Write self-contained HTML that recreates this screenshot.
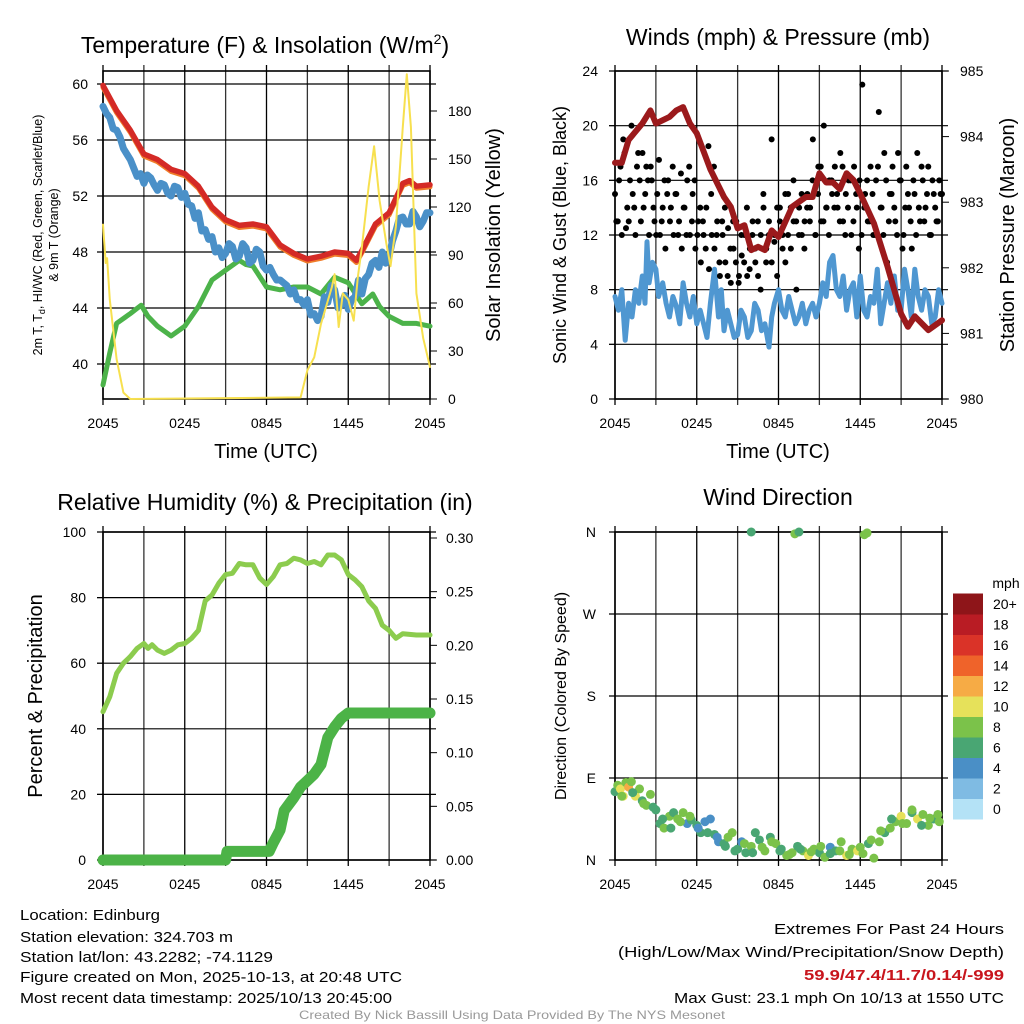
<!DOCTYPE html>
<html><head><meta charset="utf-8"><style>
body{margin:0;background:#fff}
svg{display:block;font-family:"Liberation Sans",sans-serif}
</style></head><body>
<svg id="chart" width="1024" height="1024" viewBox="0 0 1024 1024" xmlns="http://www.w3.org/2000/svg">
<g id="texts">
<text x="265" y="53" font-size="23" text-anchor="middle">Temperature (F) &amp; Insolation (W/m<tspan font-size="14" dy="-9">2</tspan><tspan dy="9">)</tspan></text>
<text x="778" y="45" font-size="23" text-anchor="middle">Winds (mph) &amp; Pressure (mb)</text>
<text x="265" y="510" font-size="23" text-anchor="middle">Relative Humidity (%) &amp; Precipitation (in)</text>
<text x="778" y="505" font-size="23" text-anchor="middle">Wind Direction</text>
<text transform="translate(42,235) rotate(-90)" font-size="12.5" text-anchor="middle">2m T, T<tspan font-size="9" dy="3">d</tspan><tspan dy="-3">, HI/WC (Red, Green, Scarlet/Blue)</tspan></text>
<text transform="translate(58,235) rotate(-90)" font-size="12.5" text-anchor="middle">&amp; 9m T (Orange)</text>
<text transform="translate(500,235) rotate(-90)" font-size="20" text-anchor="middle">Solar Insolation (Yellow)</text>
<text transform="translate(566,235) rotate(-90)" font-size="18" text-anchor="middle">Sonic Wind &amp; Gust (Blue, Black)</text>
<text transform="translate(1014,235) rotate(-90)" font-size="20" text-anchor="middle">Station Pressure (Maroon)</text>
<text transform="translate(42,696) rotate(-90)" font-size="20" text-anchor="middle">Percent &amp; Precipitation</text>
<text transform="translate(566,696) rotate(-90)" font-size="16" text-anchor="middle">Direction (Colored By Speed)</text>
<text x="266" y="458" font-size="20" text-anchor="middle">Time (UTC)</text>
<text x="778" y="458" font-size="20" text-anchor="middle">Time (UTC)</text>
<text x="1006" y="588" font-size="14" text-anchor="middle">mph</text>
<g font-size="15">
<text x="20" y="920" textLength="140" lengthAdjust="spacingAndGlyphs">Location: Edinburg</text>
<text x="20" y="942" textLength="213" lengthAdjust="spacingAndGlyphs">Station elevation: 324.703 m</text>
<text x="20" y="962" textLength="253" lengthAdjust="spacingAndGlyphs">Station lat/lon: 43.2282; -74.1129</text>
<text x="20" y="982" textLength="382" lengthAdjust="spacingAndGlyphs">Figure created on Mon, 2025-10-13, at 20:48 UTC</text>
<text x="20" y="1003" textLength="372" lengthAdjust="spacingAndGlyphs">Most recent data timestamp: 2025/10/13 20:45:00</text>
</g>
<g font-size="15" text-anchor="end">
<text x="1004" y="934" textLength="230" lengthAdjust="spacingAndGlyphs">Extremes For Past 24 Hours</text>
<text x="1004" y="957" textLength="386" lengthAdjust="spacingAndGlyphs">(High/Low/Max Wind/Precipitation/Snow Depth)</text>
<text x="1004" y="980" fill="#c8151d" font-weight="bold" textLength="200" lengthAdjust="spacingAndGlyphs">59.9/47.4/11.7/0.14/-999</text>
<text x="1004" y="1003" textLength="330" lengthAdjust="spacingAndGlyphs">Max Gust: 23.1 mph On 10/13 at 1550 UTC</text>
</g>
<text x="512" y="1019" font-size="12" fill="#999" text-anchor="middle" textLength="426" lengthAdjust="spacingAndGlyphs">Created By Nick Bassill Using Data Provided By The NYS Mesonet</text>
</g>
</svg>
<script>
// ---- data ----
const timeLabels = ["2045","0245","0845","1445","2045"];
const tempTicks = [40,44,48,52,56,60];
const insolTicks = [0,30,60,90,120,150,180];
const windTicks = [0,4,8,12,16,20,24];
const presTicks = [980,981,982,983,984,985];
const rhTicks = [0,20,40,60,80,100];
const precTicks = ["0.00","0.05","0.10","0.15","0.20","0.25","0.30"];
const dirTickLabels = ["N","E","S","W","N"];
const speedLabels = ["0","2","4","6","8","10","12","14","16","18","20+"];

const redT = [0,1,2,3,4,5,6,7,8,9,10,11,12,13,14,15,16,17,18,18.6,19,20,21,22,22.5,23,24];
const redV = [59.9,58.1,56.7,55.0,54.6,53.9,53.6,52.7,51.2,50.3,49.9,50.0,49.8,48.5,47.9,47.5,47.7,48.0,47.9,47.4,48.1,50.0,50.8,52.9,53.1,52.7,52.8];
const blueT = [0,0.25,0.5,0.75,1,1.25,1.5,1.75,2,2.25,2.5,2.75,3,3.25,3.5,3.75,4,4.25,4.5,4.75,5,5.25,5.5,5.75,6,6.25,6.5,6.75,7,7.25,7.5,7.75,8,8.25,8.5,8.75,9,9.25,9.5,9.75,10,10.25,10.5,10.75,11,11.25,11.5,11.75,12,12.25,12.5,12.75,13,13.25,13.5,13.75,14,14.25,14.5,14.75,15,15.25,15.5,15.75,16,16.25,16.5,16.75,17,17.25,17.5,17.75,18,18.25,18.5,18.75,19,19.25,19.5,19.75,20,20.25,20.5,20.75,21,21.25,21.5,21.75,22,22.25,22.5,22.75,23,23.25,23.5,23.75,24];
const blueV = [58.4,57.9,57.6,56.8,56.7,56.2,55.4,55.0,54.6,54.0,53.4,53.6,52.9,53.5,53.3,52.8,52.4,52.9,52.8,52.2,52.0,52.7,52.6,51.9,52.2,51.4,51.3,50.4,50.8,49.5,49.6,48.9,49.1,48.0,48.3,47.6,47.9,48.6,48.4,47.5,47.7,48.6,48.3,47.2,47.4,48.2,48.0,47.0,46.7,46.9,46.4,46.0,46.0,45.8,45.6,45.0,45.3,44.6,44.6,44.2,44.6,43.5,43.6,43.1,43.4,44.8,44.4,45.6,45.3,44.0,44.2,44.9,43.9,44.6,44.8,46.0,45.0,46.1,46.4,47.2,47.4,46.9,48.0,47.2,47.7,48.8,49.5,50.4,50.5,50.0,50.0,50.9,50.5,49.8,50.2,50.8,50.8];
const greenT = [0,0.5,1,2,2.8,3.3,4,5,6,7,8,9,10,10.5,11,12,13,14,15,16,17,18,19,19.8,20.3,21,22,23,24];
const greenV = [38.5,40.8,42.9,43.6,44.2,43.4,42.7,42.0,42.7,44.1,46.0,46.7,47.4,47.1,47.0,45.5,45.3,45.5,45.5,45.0,46.2,45.8,44.3,45.0,44.1,43.4,42.9,42.9,42.7];
const solT = [0,0.2,0.3,0.5,1,1.5,2,14.5,15,15.5,16,16.8,17,17.3,17.6,18,18.4,18.7,19,19.5,19.9,20.3,20.8,21.1,21.5,22,22.3,22.6,23,23.5,24];
const solV = [109,85,88,62,25,4,0,1,18,26,47,70,78,45,66,62,49,76,95,133,158,124,97,83,108,170,203,170,66,38,20];

const sonicT = [0,0.25,0.5,0.75,1,1.25,1.5,1.75,2,2.2,2.35,2.5,2.75,3,3.2,3.5,3.75,4,4.25,4.5,4.75,5,5.25,5.5,5.75,6,6.25,6.5,6.75,7,7.3,7.6,7.8,8,8.25,8.5,8.75,9,9.25,9.5,9.75,10,10.25,10.5,10.75,11,11.3,11.5,11.7,12,12.25,12.5,12.75,13,13.25,13.5,13.75,14,14.25,14.5,14.75,15,15.25,15.5,15.75,16,16.25,16.5,16.75,17,17.25,17.5,17.75,18,18.25,18.5,18.75,19,19.25,19.5,19.75,20,20.25,20.5,20.75,21,21.25,21.5,21.75,22,22.25,22.5,22.75,23,23.25,23.5,23.75,24];
const sonicV = [7.5,6.5,8,4.3,7,6,8,7,9,7,11.5,8.5,10,9.5,7.5,8.5,7,6,7.5,6.8,5.5,8.5,7,6,7.5,5.5,6.5,5.5,4.5,7,9.5,6,8,5,6.5,5.5,4.5,4.7,6.5,6,4.5,5,7,6.5,5,5.5,3.8,6,7,8,6.5,6,7.5,6.5,5.5,6,7,5.5,6.5,7,6,7,8.5,7.5,10,10.5,8,7.5,9,6.5,8,8.5,6,9,6.5,6,7.5,7,9.5,5.5,7,8.5,7,9,6.5,6.5,9.5,8,6,9.5,7.5,6.5,8,7.5,5.5,6,8,7];
const gustV = [15,13,17,19,12.5,13,20,14,17,16,18,15,16,17,14,12,17.5,13,16,15,13,17,15,12,16.5,14,12,17,13,16,12,14,13,11,18.5,15,17,12,10,13,14,9,11,13,10,8.5,12,10,14,9.5,12,11,13,8,15,10,12,19,11.5,9,14,12,10,15,11,13,8,14,12,13,15,14,19,12,17,13,20,14,16,15,17,14,18,13,15,16,12,17,14,16,23,15,13,17,12,16,21,14,18,10,15,17,13,18,16,12,17,14,11,15,18,13,16,14,17,12,15,13,16,15];
const gustV2 = [13,16,12,18,14,16,15,12,18,13,14,17,12,16,13,15,12,14,11,16,14,12,15,13,11,14,16,12,15,11,13,10,12,14,9.5,12,11,13,9,12,10,12.5,8.5,11,13,9,10.5,12,9,11,13,10,9,12,14,11,13,10,12,14,13,11,15,12,14,16,13,12,15,11,14,13,16,12,15,17,13,14,12,16,14,15,13,17,12,14,16,13,15,11,12,14,16,13,15,12,17,14,12,16,13,15,14,12,16,11,14,15,13,16,12,14,17,13,15,12,16,14,13,15];
const presT = [0,0.5,1,2,2.6,3,4,4.5,5,5.5,6,7,8,8.5,9,9.5,10,10.5,11,11.5,12,13,14,14.5,15,15.5,16,16.5,17,17.5,18,19,20,21,21.5,22,23,24];
const presV = [983.6,983.6,983.95,984.2,984.4,984.2,984.3,984.4,984.45,984.2,984.05,983.5,983.08,982.93,982.6,982.65,982.27,982.32,982.27,982.57,982.47,982.93,983.08,983.08,983.44,983.3,983.3,983.2,983.44,983.34,983.13,982.68,982.02,981.3,981.1,981.26,981.05,981.2];

const rhT = [0,0.5,1,1.5,2,2.5,3,3.3,3.6,4,4.5,5,5.5,6,6.5,7,7.5,8,8.5,9,9.5,10,10.5,11,11.5,12,12.5,13,13.5,14,14.5,15,15.5,16,16.5,17,17.5,18,18.5,19,19.5,20,20.5,21,21.5,22,23,24];
const rhV = [45.2,49.8,56.9,60,62,64.5,66,64.5,65.6,64,63,64,65.6,66,67.6,70,79,80.8,84.4,87,87.4,90.4,90,90,86,84,86.4,90,90.4,92,91.5,90.4,91,90,93,93,91.5,87,85.4,83.3,79,76.7,71.6,70,67.6,69,68.6,68.6];
const precT = [0,9,9.1,12.2,12.5,13,13.3,14,14.5,15,15.5,16,16.5,17,17.5,18,24];
const precV = [0,0,0.008,0.008,0.016,0.028,0.046,0.058,0.068,0.074,0.080,0.089,0.114,0.124,0.132,0.137,0.137];

const dirT = [0,0.2,0.4,0.6,0.8,1,1.2,1.5,1.8,2,2.3,2.6,3,3.3,3.6,4,4.3,4.6,5,5.3,5.6,6,6.3,6.6,7,7.3,7.6,8,8.3,8.6,9,9.3,9.6,10,10.3,10.6,11,11.4,11.8,12.2,12.6,13,13.4,13.8,14.2,14.6,15,15.4,15.8,16.2,16.6,17,17.4,17.8,18.2,18.6,19,19.4,19.8,20.2,20.6,21,21.4,21.8,22.2,22.6,23,23.4,23.8,10,13.2,13.5,18.3,18.5,0.5,1.3,2.1,2.8,3.5,4.1,4.8,5.5,6.1,6.8,7.5,8.1,8.8,9.5,10.1,10.8,11.5,12.1,12.8,13.6,14.4,15.1,15.8,16.5,17.2,18,18.8,19.5,20.3,21.1,21.8,22.5,23.1,23.7];
const dirV = [75,82,78,70,85,80,86,70,78,65,60,72,55,40,35,48,52,45,52,40,44,38,30,42,45,28,20,18,25,30,12,20,8,15,30,22,10,25,18,12,5,8,15,10,5,12,8,3,14,10,20,5,12,10,7,18,2,20,30,35,42,48,40,52,45,50,38,45,42,360,358,360,357,359,70,74,62,58,45,35,42,48,35,30,25,15,10,18,8,14,20,10,6,12,9,15,7,10,6,14,22,32,45,40,55,38,46,50];
const dirS = [6,8,9,10,7,12,8,10,7,6,8,7,6,6,8,7,6,8,7,4,6,5,6,4,4,5,4,6,8,7,5,4,6,7,5,6,8,5,7,6,8,7,5,7,10,8,6,8,4,6,7,10,8,9,7,6,7,8,6,7,8,9,7,6,10,8,7,6,8,6,8,5,7,8,8,6,7,6,5,6,7,8,4,6,4,5,6,8,6,7,8,6,7,6,8,7,6,8,7,8,8,7,6,8,7,6,8,7];

// ---- helpers ----
const svg = document.getElementById('chart');
const NS = 'http://www.w3.org/2000/svg';
function mk(tag, attrs, parent) {
  const e = document.createElementNS(NS, tag);
  for (const k in attrs) e.setAttribute(k, attrs[k]);
  (parent || svg).appendChild(e);
  return e;
}
function pts(ts, vs, xf, yf) { return ts.map((t, i) => xf(t).toFixed(1) + ',' + yf(vs[i]).toFixed(1)).join(' '); }

const panels = {
  tl: {x0: 103, x1: 430, y0: 71, y1: 399},
  tr: {x0: 615, x1: 942, y0: 71, y1: 399},
  bl: {x0: 103, x1: 430, y0: 532, y1: 860},
  br: {x0: 615, x1: 942, y0: 532, y1: 860}
};
function xs(p) { return t => p.x0 + t * (p.x1 - p.x0) / 24; }
function lin(d0, d1, r0, r1) { return v => r0 + (v - d0) * (r1 - r0) / (d1 - d0); }

function frame(p, name, yGrid) {
  const g = mk('g', {});
  
  
  const x = xs(p);
  for (let h = 0; h <= 24; h += 3) {
    const l = mk('line', {x1: x(h), x2: x(h), y1: p.y0 - 6, y2: p.y1 + 6, stroke: h % 6 ? '#333' : '#000', 'stroke-width': 1.3}, g);
    
    
  }
  yGrid.forEach(y => {
    const l = mk('line', {x1: p.x0 - 6, x2: p.x1 + 6, y1: y, y2: y, stroke: '#000', 'stroke-width': 1.2}, g);
    
    
  });
  mk('rect', {x: p.x0, y: p.y0, width: p.x1 - p.x0, height: p.y1 - p.y0, fill: 'none', stroke: '#000', 'stroke-width': 1.6}, g);
  timeLabels.forEach((s, i) => {
    const tx = mk('text', {x: x(i * 6), y: p.y1 + 29, 'font-size': 14, 'text-anchor': 'middle'}, g);
    tx.textContent = s;
    
    
  });
  return g;
}
function yLabels(list, yf, xPos, anchor, g, p, right) {
  list.forEach(v => {
    const y = yf(parseFloat(v));
    const tx = mk('text', {x: xPos, y: y + 5, 'font-size': 14, 'text-anchor': anchor}, g);
    tx.textContent = v;
    
    
    mk('line', {x1: right ? p.x1 : p.x0 - 6, x2: right ? p.x1 + 7 : p.x0, y1: y, y2: y, stroke: '#000', 'stroke-width': 1}, g);
  });
}
function line(ts, vs, xf, yf, color, w, name) {
  const pl = mk('polyline', {points: pts(ts, vs, xf, yf), fill: 'none', stroke: color, 'stroke-width': w, 'stroke-linejoin': 'round', 'stroke-linecap': 'round'});
  
  
  return pl;
}

// ---- panel 1 ----
{
  const p = panels.tl, x = xs(p);
  const yT = lin(60, 40, 84, 364), yS = lin(0, 180, 399, 111);
  const g = frame(p, 'temperature', tempTicks.map(yT));
  yLabels(tempTicks.map(String), yT, 88, 'end', g, p, false);
  yLabels(insolTicks.map(String), yS, 448, 'start', g, p, true);
  line(greenT, greenV, x, yT, '#4cb34a', 5, 'dewpoint-line');
  line(blueT, blueV, x, yT, '#4a90c8', 7, 'heat-index-windchill-line');
  line(redT, redV.map(v => v - 0.15), x, yT, '#f07d2a', 5, 'nine-meter-temp-line');
  line(redT, redV, x, yT, '#d42a26', 5.5, 'two-meter-temp-line');
  line(solT, solV, x, yS, '#f7e04f', 2, 'solar-insolation-line');
}
// ---- panel 2 ----
{
  const p = panels.tr, x = xs(p);
  const yW = lin(0, 24, 399, 71), yP = lin(980, 985, 399, 71);
  const g = frame(p, 'winds', windTicks.map(yW));
  yLabels(windTicks.map(String), yW, 598, 'end', g, p, false);
  yLabels(presTicks.map(String), yP, 960, 'start', g, p, true);
  line(sonicT, sonicV, x, yW, '#4f97d1', 5, 'sonic-wind-line');
  gustV.forEach((v, i) => {
    const c = mk('circle', {cx: x(i * 24 / (gustV.length - 1)), cy: yW(v), r: 3, fill: '#000'});
    
    
  });
  gustV2.forEach((v, i) => {
    const c = mk('circle', {cx: x((i + 0.5) * 24 / gustV2.length), cy: yW(v), r: 3, fill: '#000'});
    
    
  });
  line(presT, presV, x, yP, '#9b1a1c', 6, 'station-pressure-line');
}
// ---- panel 3 ----
{
  const p = panels.bl, x = xs(p);
  const yR = lin(0, 100, 860, 532), yPr = lin(0, 0.3, 860, 538);
  const g = frame(p, 'humidity', rhTicks.map(yR));
  yLabels(rhTicks.map(String), yR, 86, 'end', g, p, false);
  yLabels(precTicks, yPr, 446, 'start', g, p, true);
  line(rhT, rhV, x, yR, '#8ccc4e', 5, 'relative-humidity-line');
  line(precT, precV, x, yPr, '#4cb347', 11, 'precipitation-line');
}
// ---- panel 4 ----
{
  const p = panels.br, x = xs(p);
  const yD = lin(0, 360, 860, 532);
  const g = frame(p, 'wind-direction', [0, 90, 180, 270, 360].map(yD));
  dirTickLabels.forEach((s, i) => {
    const tx = mk('text', {x: 596, y: yD(i * 90) + 5, 'font-size': 14, 'text-anchor': 'end'}, g);
    tx.textContent = s;
    
    
  });
  const colors = ['#b4e2f6','#7fbbe3','#4a8fc6','#49a673','#7bc24a','#e6e15a','#f6ab45','#ef632a','#da3328','#b91c24','#8e1519'];
  dirT.forEach((t, i) => {
    const s = Math.min(10, Math.floor(dirS[i] / 2 + 0.5));
    const c = mk('circle', {cx: x(t), cy: yD(dirV[i]), r: 4.5, fill: colors[s]});
    
    
  });
  const cb = mk('g', {});
  
  
  const h = 20.5;
  speedLabels.forEach((lab, i) => {
    const yy = 819 - (i + 1) * h;
    const r = mk('rect', {x: 953, y: yy, width: 30, height: h + 0.5, fill: colors[i]}, cb);
    
    
    const tx = mk('text', {x: 993, y: yy + h / 2 + 5, 'font-size': 14}, cb);
    tx.textContent = lab;
    
    
  });
}
</script>
</body></html>
